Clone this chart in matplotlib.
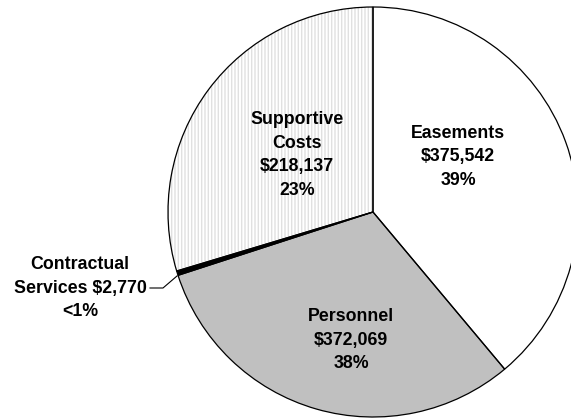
import matplotlib
matplotlib.use("Agg")
import matplotlib.pyplot as plt

categories = ["Easements", "Personnel", "Contractual Services", "Supportive Costs"]
values = [375542, 372069, 2770, 218137]
pct_labels = ["39%", "38%", "<1%", "23%"]
# share of the circle each slice occupies in the reference picture (percent)
slice_shares = [38.9, 31.1, 0.35, 29.65]
colors = ["#FFFFFF", "#C0C0C0", "#000000", "#FFFFFF"]

W, H = 571, 419
fig = plt.figure(figsize=(W / 100, H / 100), dpi=100)
ax = fig.add_axes([0, 0, 1, 1])

cx, cy, R = 373, 212, 205  # pixel geometry of pie

def px(x, y):
    return (x - cx) / R, (cy - y) / R

wedges, _ = ax.pie(slice_shares, colors=colors, startangle=90, counterclock=False,
                   radius=1, center=(0, 0), frame=True,
                   wedgeprops=dict(linewidth=0))
wedges[3].set_hatch("|||||")
wedges[3].set_edgecolor("#e0e0e0")
wedges[3].set_linewidth(0)
ax.pie(slice_shares, colors=["none"] * 4, startangle=90, counterclock=False,
       radius=1, center=(0, 0), frame=True,
       wedgeprops=dict(linewidth=0.9, edgecolor="black", fill=False))
ax.set_xlim(px(0, 0)[0], px(W, 0)[0])
ax.set_ylim(px(0, H)[1], px(0, 0)[1])
ax.set_aspect("equal")
ax.axis("off")

font = dict(family="Liberation Sans", fontweight="bold", fontsize=12.8,
            ha="center", va="center", linespacing=1.5)

def money(v):
    return "${:,}".format(v)

ax.text(*px(458, 157), f"{categories[0]}\n{money(values[0])}\n{pct_labels[0]}", **font)
ax.text(*px(351, 340), f"{categories[1]}\n{money(values[1])}\n{pct_labels[1]}", **font)
ax.text(*px(297, 155), "Supportive\nCosts\n" + f"{money(values[3])}\n{pct_labels[3]}", **font)
ax.text(*px(80, 288), "Contractual\nServices " + f"{money(values[2])}\n{pct_labels[2]}", **font)
ax.plot(*zip(px(150, 288), px(163, 288), px(177, 276)), color="black", lw=0.8)

fig.savefig("out.png", dpi=100)
